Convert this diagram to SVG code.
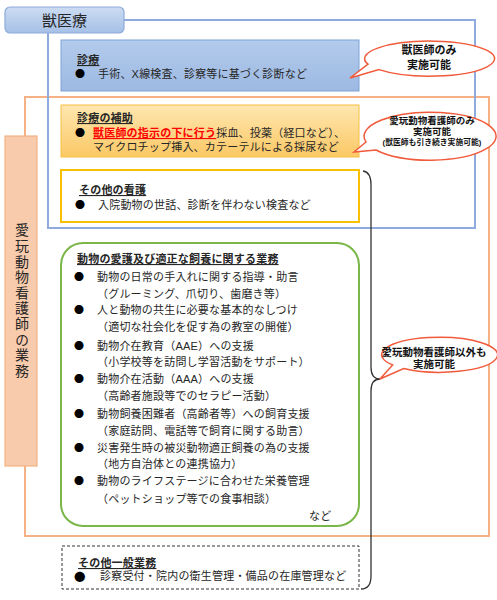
<svg xmlns="http://www.w3.org/2000/svg" width="497" height="600" viewBox="0 0 497 600">
<defs>
<linearGradient id="gHead" x1="0" y1="0" x2="0" y2="1"><stop offset="0" stop-color="#cddcf2"/><stop offset="1" stop-color="#a6c0e6"/></linearGradient>
<linearGradient id="gBlue" x1="0" y1="0" x2="0" y2="1"><stop offset="0" stop-color="#b3cbec"/><stop offset="1" stop-color="#9db9e2"/></linearGradient>
<linearGradient id="gYel" x1="0" y1="0" x2="0" y2="1"><stop offset="0" stop-color="#fee7b0"/><stop offset="1" stop-color="#fbc865"/></linearGradient>
</defs>
<style>
text{font-family:"Liberation Sans","Noto Sans CJK JP",sans-serif;fill:#262626}
.b{font-size:11px;letter-spacing:0.2px}
.t{font-size:11px;font-weight:bold;text-decoration:underline;letter-spacing:0.2px}
.bl{font-family:"Noto Sans CJK JP",sans-serif;font-size:10px;fill:#000}
.c{font-weight:bold;text-anchor:middle;fill:#111}
.call{fill:#fff;stroke:#f15a3a;stroke-width:1.5}
</style>

<g id="frame-orange"><rect x="25" y="97" width="464" height="439" fill="none" stroke="#f4b183" stroke-width="2"/></g>
<g id="frame-blue"><rect x="48" y="20" width="427" height="208" fill="none" stroke="#8faadc" stroke-width="2"/></g>

<g id="header">
<rect x="5" y="7" width="119" height="26" rx="5" fill="url(#gHead)" stroke="#8eaadb" stroke-width="1.2"/>
<text x="64.5" y="26" font-size="15" text-anchor="middle" fill="#333">獣医療</text>
</g>

<g id="label-vnurse">
<rect x="5" y="136" width="32" height="330" fill="#f8cbad" stroke="#f4b183" stroke-width="1.2"/>
<text x="21" y="223" font-size="14" writing-mode="vertical-rl" letter-spacing="1.6" fill="#333">愛玩動物看護師の業務</text>
</g>

<g id="node-shinryo">
<rect x="61" y="40" width="298" height="51" fill="url(#gBlue)" stroke="#7fa3d6" stroke-width="1"/>
<text class="t" x="77" y="64">診療</text>
<text class="bl" x="75" y="78">●</text>
<text class="b" x="98" y="78">手術、X線検査、診察等に基づく診断など</text>
</g>

<g id="node-hojo">
<rect x="61" y="105" width="298" height="52" fill="url(#gYel)" stroke="#f5c044" stroke-width="1"/>
<text class="t" x="77" y="122">診療の補助</text>
<text class="bl" x="75" y="137">●</text>
<text class="b" x="93" y="137"><tspan fill="#ff0000" font-weight="bold" text-decoration="underline">獣医師の指示の下に行う</tspan>採血、投薬（経口など）、</text>
<text class="b" x="93" y="151">マイクロチップ挿入、カテーテルによる採尿など</text>
</g>

<g id="node-kango">
<rect x="61" y="170" width="298" height="52" fill="#fff" stroke="#f8c000" stroke-width="2"/>
<text class="t" x="79" y="194">その他の看護</text>
<text class="bl" x="75" y="209">●</text>
<text class="b" x="98" y="209">入院動物の世話、診断を伴わない検査など</text>
</g>

<g id="node-aigo">
<rect x="61" y="243" width="298" height="283" rx="22" fill="#fff" stroke="#7ab648" stroke-width="2"/>
<text class="t" x="77" y="263">動物の愛護及び適正な飼養に関する業務</text>
<text class="bl" x="74" y="281">●</text><text class="b" x="97" y="281">動物の日常の手入れに関する指導・助言</text>
<text class="b" x="97" y="298">（グルーミング、爪切り、歯磨き等）</text>
<text class="bl" x="74" y="314">●</text><text class="b" x="97" y="314">人と動物の共生に必要な基本的なしつけ</text>
<text class="b" x="97" y="331">（適切な社会化を促す為の教室の開催）</text>
<text class="bl" x="74" y="350">●</text><text class="b" x="97" y="350">動物介在教育（AAE）への支援</text>
<text class="b" x="97" y="366">（小学校等を訪問し学習活動をサポート）</text>
<text class="bl" x="74" y="383">●</text><text class="b" x="97" y="383">動物介在活動（AAA）への支援</text>
<text class="b" x="97" y="400">（高齢者施設等でのセラピー活動）</text>
<text class="bl" x="74" y="418">●</text><text class="b" x="97" y="418">動物飼養困難者（高齢者等）への飼育支援</text>
<text class="b" x="97" y="435">（家庭訪問、電話等で飼育に関する助言）</text>
<text class="bl" x="74" y="452">●</text><text class="b" x="97" y="452">災害発生時の被災動物適正飼養の為の支援</text>
<text class="b" x="97" y="468">（地方自治体との連携協力）</text>
<text class="bl" x="74" y="485">●</text><text class="b" x="97" y="485">動物のライフステージに合わせた栄養管理</text>
<text class="b" x="97" y="503">（ペットショップ等での食事相談）</text>
<text class="b" x="309" y="520">など</text>
</g>

<g id="node-ippan">
<rect x="62" y="546" width="297" height="43" fill="#fff" stroke="#333" stroke-width="1" stroke-dasharray="3,2"/>
<text class="t" x="78" y="567">その他一般業務</text>
<text class="bl" style="font-size:11.5px" x="74" y="581">●</text>
<text class="b" x="100" y="580">診察受付・院内の衛生管理・備品の在庫管理など</text>
</g>

<g id="connectors">
<path d="M363,171 Q371,172 371,185 L371,367 Q371,379 380,379 Q371,379 371,391 L371,576 Q371,589 361,589" fill="none" stroke="#333" stroke-width="1.3"/>
</g>

<g id="callout-vet">
<path class="call" d="M368,64.2 L350,78 L379,69.6 A65 17.5 0 1 0 368,64.2 Z"/>
<text class="c" font-size="11" x="429" y="54">獣医師のみ</text>
<text class="c" font-size="11" x="429" y="69">実施可能</text>
</g>

<g id="callout-vnurse">
<path class="call" d="M366,142 L354,152 L376,150 A66 24 0 1 0 366,142 Z"/>
<text class="c" font-size="9.5" x="432" y="124">愛玩動物看護師のみ</text>
<text class="c" font-size="9.5" x="432" y="135">実施可能</text>
<text class="c" font-size="7.8" x="432" y="145">(獣医師も引き続き実施可能)</text>
</g>

<g id="callout-others">
<path class="call" d="M392.6,365 L380,379 L403.7,368.5 A58 17.5 0 1 0 392.6,365 Z"/>
<text class="c" font-size="10.5" x="434" y="356">愛玩動物看護師以外も</text>
<text class="c" font-size="10.5" x="434" y="368">実施可能</text>
</g>
</svg>
